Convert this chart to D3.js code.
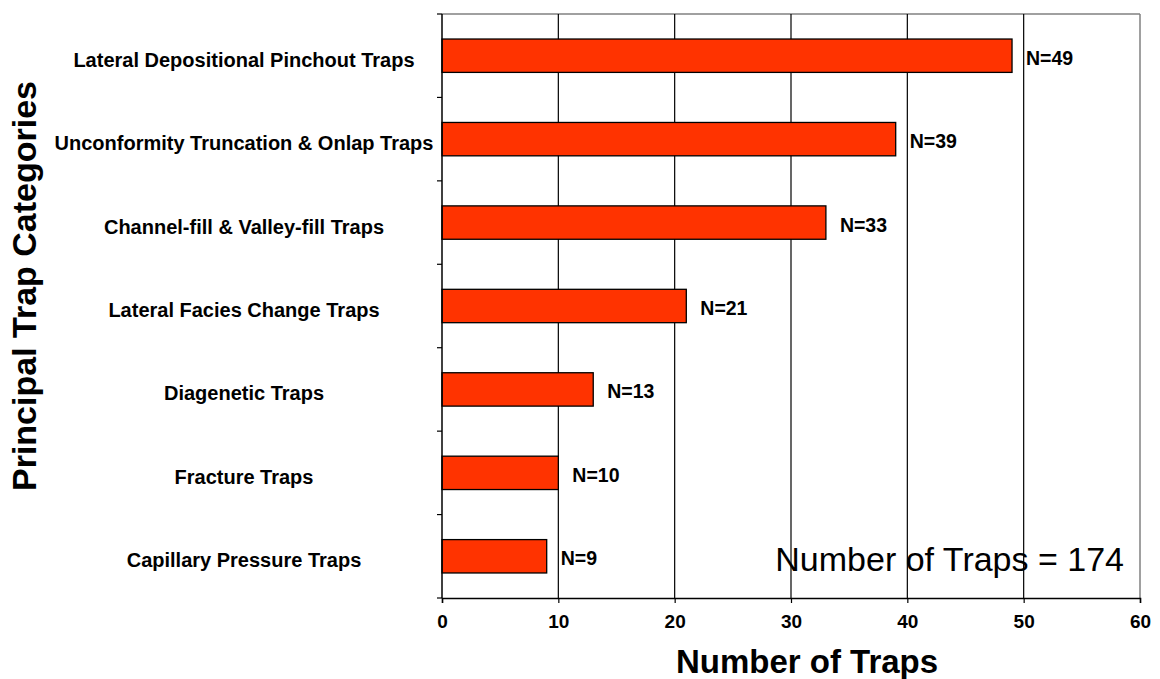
<!DOCTYPE html>
<html>
<head>
<meta charset="utf-8">
<script src="https://cdn.jsdelivr.net/npm/d3@7"></script>
<style>
  html, body { margin: 0; padding: 0; background: #fff; }
  svg { display: block; font-family: "Liberation Sans", Arial, Helvetica, sans-serif; }
</style>
</head>
<body>
<svg id="chart" width="1160" height="679"></svg>
<script>
const categories = [
  "Lateral Depositional Pinchout Traps",
  "Unconformity Truncation & Onlap Traps",
  "Channel-fill & Valley-fill Traps",
  "Lateral Facies Change Traps",
  "Diagenetic Traps",
  "Fracture Traps",
  "Capillary Pressure Traps"
];
const values = [49, 39, 33, 21, 13, 10, 9];
const xTicks = [0, 10, 20, 30, 40, 50, 60];
const xTitle = "Number of Traps";
const yTitle = "Principal Trap Categories";
const totalNote = "Number of Traps = 174";

const svg = d3.select("#chart");
const m = { left: 442, top: 14, right: 1140, bottom: 598 };

const x = d3.scaleLinear().domain([0, 60]).range([m.left, m.right]);
const y = d3.scaleBand().domain(categories).range([m.top, m.bottom]).paddingInner(0.6).paddingOuter(0.3);

// frame (top & right gray)
svg.append("line").attr("x1", m.left).attr("x2", m.right).attr("y1", m.top).attr("y2", m.top)
  .attr("stroke", "#808080").attr("stroke-width", 1.5);
svg.append("line").attr("x1", m.right).attr("x2", m.right).attr("y1", m.top).attr("y2", m.bottom)
  .attr("stroke", "#808080").attr("stroke-width", 1.5);

// gridlines
svg.append("g").selectAll("line").data(xTicks.filter(d => d > 0 && d < 60)).join("line")
  .attr("x1", d => x(d)).attr("x2", d => x(d)).attr("y1", m.top).attr("y2", m.bottom)
  .attr("stroke", "#000").attr("stroke-width", 1.2);

// bars
svg.append("g").selectAll("rect").data(values).join("rect")
  .attr("x", x(0))
  .attr("y", (d, i) => y(categories[i]))
  .attr("width", d => x(d) - x(0))
  .attr("height", y.bandwidth())
  .attr("fill", "#FF3300")
  .attr("stroke", "#000").attr("stroke-width", 1.3);

// value labels
svg.append("g").selectAll("text").data(values).join("text")
  .attr("x", d => x(d) + 14)
  .attr("y", (d, i) => y(categories[i]) + y.bandwidth() / 2 + 9)
  .attr("font-size", 19.5).attr("font-weight", "bold")
  .text(d => "N=" + d);

// x axis
const xAxis = d3.axisBottom(x).tickValues(xTicks).tickSize(5).tickPadding(12).tickFormat(d3.format("d"));
const gx = svg.append("g").attr("transform", `translate(0,${m.bottom})`).call(xAxis);
gx.select(".domain").attr("stroke", "#000").attr("stroke-width", 1.5);
gx.selectAll(".tick line").attr("stroke", "#000").attr("stroke-width", 1.2);
gx.selectAll(".tick text").attr("font-size", 19).attr("font-weight", "bold")
  .attr("font-family", "'Liberation Sans', Arial, sans-serif").attr("fill", "#000");

// y axis (ticks at band boundaries)
const bounds = d3.range(categories.length + 1).map(i => m.top + i * (m.bottom - m.top) / categories.length);
svg.append("line").attr("x1", m.left).attr("x2", m.left).attr("y1", m.top).attr("y2", m.bottom)
  .attr("stroke", "#000").attr("stroke-width", 1.5);
svg.append("g").selectAll("line").data(bounds).join("line")
  .attr("x1", m.left - 5).attr("x2", m.left).attr("y1", d => d).attr("y2", d => d)
  .attr("stroke", "#000").attr("stroke-width", 1.2);

// category labels
svg.append("g").selectAll("text").data(categories).join("text")
  .attr("x", 244)
  .attr("y", d => y(d) + y.bandwidth() / 2 + 11)
  .attr("text-anchor", "middle")
  .attr("font-size", 20).attr("font-weight", "bold")
  .text(d => d);

// titles
svg.append("text").attr("x", 807).attr("y", 673).attr("text-anchor", "middle")
  .attr("font-size", 33).attr("font-weight", "bold").text(xTitle);
svg.append("text").attr("transform", "translate(36,286) rotate(-90)").attr("text-anchor", "middle")
  .attr("font-size", 34).attr("font-weight", "bold").text(yTitle);

// note
svg.append("text").attr("x", 1124).attr("y", 571).attr("text-anchor", "end")
  .attr("font-size", 34).text(totalNote);
</script>
</body>
</html>
